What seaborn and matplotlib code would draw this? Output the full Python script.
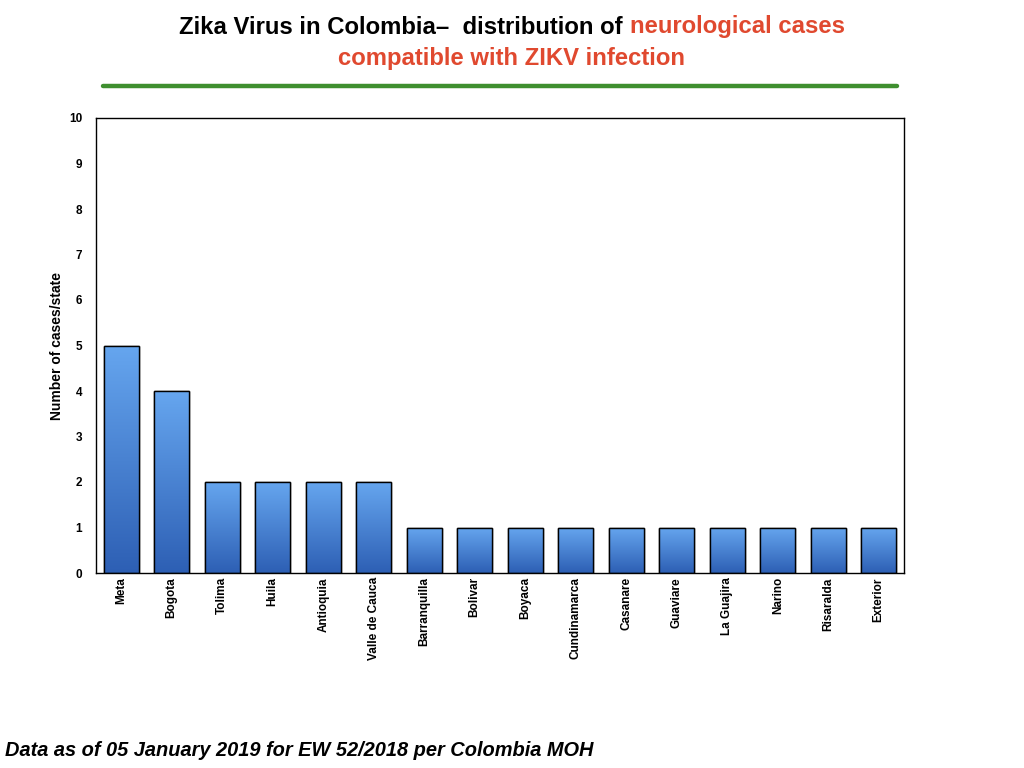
import numpy as np
import pandas as pd
import matplotlib
matplotlib.use("Agg")
import matplotlib.pyplot as plt
import seaborn as sns
from matplotlib.colors import LinearSegmentedColormap
from matplotlib.lines import Line2D

states = ["Meta", "Bogota", "Tolima", "Huila", "Antioquia", "Valle de Cauca",
          "Barranquilla", "Bolivar", "Boyaca", "Cundinamarca", "Casanare",
          "Guaviare", "La Guajira", "Narino", "Risaralda", "Exterior"]
cases = [5, 4, 2, 2, 2, 2, 1, 1, 1, 1, 1, 1, 1, 1, 1, 1]
yticks = list(range(0, 11))

sns.set_theme(style="white")
plt.rcParams['font.family'] = ['Liberation Sans', 'DejaVu Sans']
plt.rcParams['text.color'] = 'black'
plt.rcParams['axes.labelcolor'] = 'black'
plt.rcParams['xtick.color'] = 'black'
plt.rcParams['ytick.color'] = 'black'

fig = plt.figure(figsize=(10.24, 7.68), dpi=100)
ax = fig.add_axes([96/1024, 1-573/768, 808/1024, 455/768])

df = pd.DataFrame({"state": states, "cases": cases})
sns.barplot(data=df, x="state", y="cases", ax=ax, color="#4a86d8",
            width=0.7, edgecolor="black", linewidth=1.0, saturation=1)

cmap = LinearSegmentedColormap.from_list("g", ["#2d5fb4", "#66a6ef"])
grad = np.linspace(0, 1, 256).reshape(-1, 1)
for p in list(ax.patches):
    x0, y0 = p.get_x(), p.get_y()
    w, h = p.get_width(), p.get_height()
    im = ax.imshow(grad, cmap=cmap, origin="lower", aspect="auto",
                   extent=[x0, x0 + w, y0, y0 + h], zorder=p.get_zorder() + 0.1)
    im.set_clip_path(p)
    edge = plt.Rectangle((x0, y0), w, h, fill=False, edgecolor="black",
                         linewidth=1.0, zorder=p.get_zorder() + 0.2)
    ax.add_patch(edge)

ax.set_xlim(-0.5, len(states) - 0.5)
ax.set_ylim(0, 10)
ax.set_yticks(yticks)
ax.set_yticklabels([str(t) for t in yticks], fontsize=8.5, fontweight="bold")
ax.tick_params(axis="y", length=0, pad=10)
ax.tick_params(axis="x", length=0, pad=3)
ax.set_xticks(range(len(states)))
ax.set_xticklabels(states, rotation=90, fontsize=8.5, fontweight="bold", va="top")
ax.set_xlabel("")
ax.set_ylabel("Number of cases/state", fontsize=10, fontweight="bold")
ax.yaxis.set_label_coords(-0.039, 0.5)
for s in ax.spines.values():
    s.set_visible(True)
    s.set_color("black")
    s.set_linewidth(1.0)

# Title (two colours on first line)
black = "#000000"
red = "#e0492f"
tsize = 17.2
t1 = fig.text(0, 1-27/768, "Zika Virus in Colombia\u2013  distribution of ", fontsize=tsize,
              fontweight="bold", color=black, ha="left", va="center")
t2 = fig.text(0, 1-27/768, "neurological cases", fontsize=tsize,
              fontweight="bold", color=red, ha="left", va="center")
fig.canvas.draw()
r = fig.canvas.get_renderer()
w1 = t1.get_window_extent(r).width
w2 = t2.get_window_extent(r).width
start = 512 - (w1 + w2) / 2
t1.set_x(start / 1024)
t2.set_x((start + w1) / 1024)
fig.text(0.5, 1-59/768, "compatible with ZIKV infection", fontsize=tsize,
         fontweight="bold", color=red, ha="center", va="center")

fig.add_artist(Line2D([103/1024, 897/1024], [1-86/768, 1-86/768],
                      color="#3f8f2f", linewidth=3.2, transform=fig.transFigure))

fig.text(5/1024, 1-750/768, "Data as of 05 January 2019 for EW 52/2018 per Colombia MOH",
         fontsize=14.4, fontweight="bold", fontstyle="italic", ha="left", va="center")

fig.savefig("out.png", dpi=100)
